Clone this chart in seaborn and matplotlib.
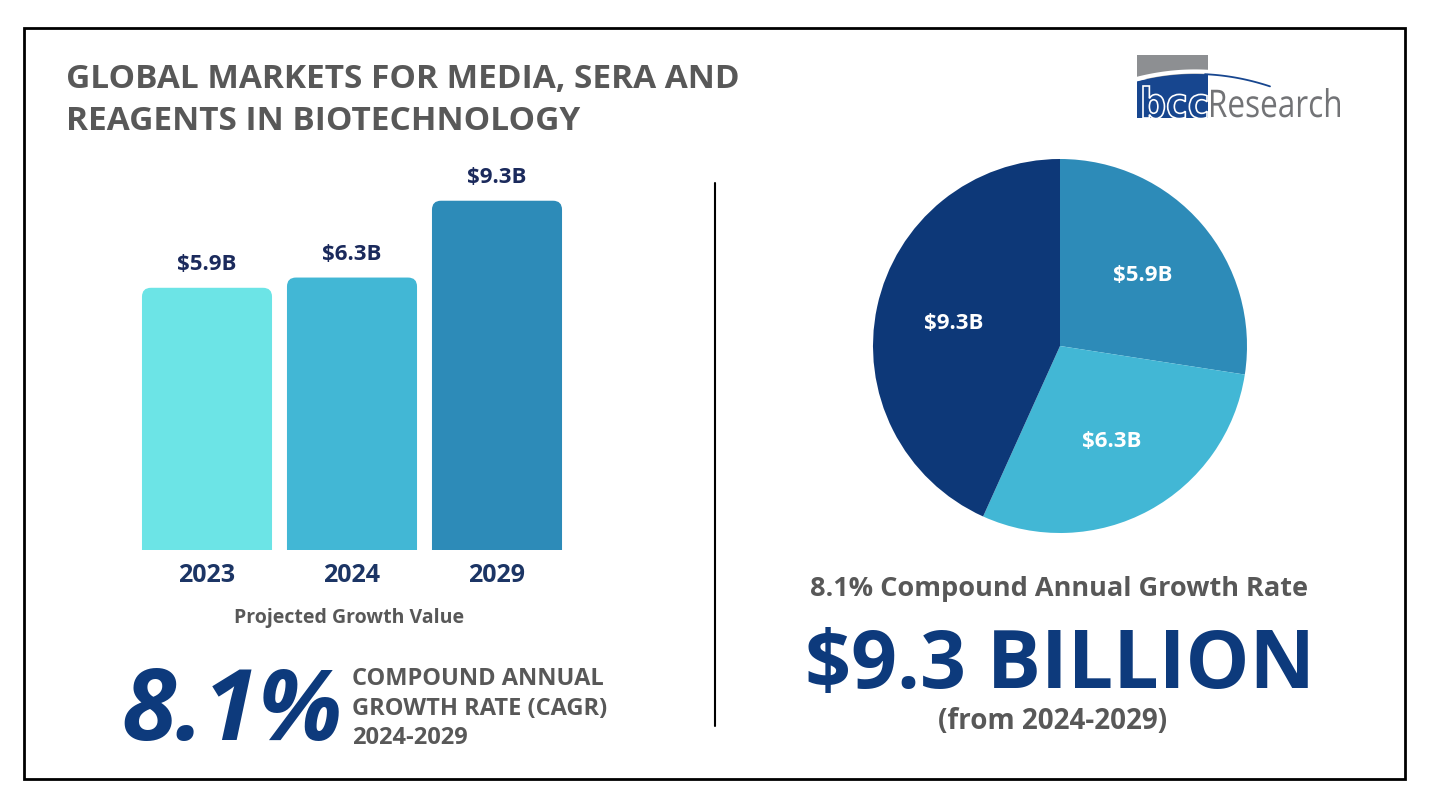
import numpy as np
import pandas as pd
import matplotlib
matplotlib.use("Agg")
import matplotlib.pyplot as plt
import seaborn as sns
from matplotlib.patches import Rectangle, FancyBboxPatch, PathPatch, Polygon
from matplotlib.textpath import TextPath
from matplotlib.font_manager import FontProperties
from matplotlib.transforms import Affine2D

# ---------------- data ----------------
years = ["2023", "2024", "2029"]
values = [5.9, 6.3, 9.3]
bar_labels = ["$5.9B", "$6.3B", "$9.3B"]
bar_colors = ["#6ce4e6", "#42b7d5", "#2d8bb8"]

pie_values = [5.9, 6.3, 9.3]
pie_labels = ["$5.9B", "$6.3B", "$9.3B"]
pie_colors = ["#2d8bb8", "#42b7d5", "#0d3878"]

title_lines = ["GLOBAL MARKETS FOR MEDIA, SERA AND", "REAGENTS IN BIOTECHNOLOGY"]
cagr_big = "8.1%"
cagr_lines = ["COMPOUND ANNUAL", "GROWTH RATE (CAGR)", "2024-2029"]
xlabel_text = "Projected Growth Value"
right_line1 = "8.1% Compound Annual Growth Rate"
right_big = "$9.3 BILLION"
right_line3 = "(from 2024-2029)"

NAVY = "#0d3a7c"
LABEL_NAVY = "#1b2a5c"
GRAY = "#585858"
FONT = "Open Sans"

sns.set_theme(style="white")
plt.rcParams["font.family"] = [FONT, "DejaVu Sans"]

W, H = 1430, 808
fig = plt.figure(figsize=(W / 100, H / 100), dpi=100)
fig.patch.set_facecolor("white")

def fax(left, top, width, height):
    """axes placed in pixel coordinates (top-left origin)"""
    return fig.add_axes([left / W, 1 - (top + height) / H, width / W, height / H])

# background / overlay axes in pixel coordinates
bg = fig.add_axes([0, 0, 1, 1], zorder=0)
bg.set_xlim(0, W)
bg.set_ylim(H, 0)
bg.axis("off")

# ---------------- bar chart ----------------
px_per_x = 145.0
base = -4.34
ytop = 10.5
xl = (-0.53, 2.53)
ax_w = (xl[1] - xl[0]) * px_per_x
ax_left = 207 + xl[0] * px_per_x
ax_h = 380.0
px_per_y = ax_h / (ytop - base)
ax = fax(ax_left, 550 - ax_h, ax_w, ax_h)
ax.patch.set_alpha(0)

df = pd.DataFrame({"year": years, "value": values})
sns.barplot(data=df, x="year", y="value", hue="year", palette=bar_colors,
            saturation=1, width=0.897, legend=False, ax=ax, zorder=2)
ax.set_xlim(*xl)
ax.set_ylim(base, ytop)

r = 9 / px_per_x
for p in list(ax.patches):
    x, w = p.get_x(), p.get_width()
    top = p.get_y() + p.get_height()
    p.set_y(base - 1)
    p.set_height(top - (base - 1))
    p.set_visible(False)
    fb = FancyBboxPatch((x, base - 1), w, top - (base - 1),
                        boxstyle=f"round,pad=0,rounding_size={r}",
                        mutation_aspect=px_per_x / px_per_y,
                        facecolor=p.get_facecolor(), edgecolor="none", zorder=2)
    ax.add_patch(fb)

for cont, lab in zip(ax.containers, bar_labels):
    ax.bar_label(cont, labels=[lab], padding=9, fontsize=16, fontweight="bold",
                 color=LABEL_NAVY)

ax.set_xlabel("")
ax.set_ylabel("")
ax.set_yticks([])
ax.tick_params(axis="x", length=0, pad=9, labelsize=18, labelcolor="#1c3565")
for t in ax.get_xticklabels():
    t.set_fontweight("bold")
sns.despine(ax=ax, left=True, bottom=True)

bg.text(349, 623, xlabel_text, ha="center", va="baseline", fontsize=14,
        fontweight="bold", color=GRAY)

# ---------------- pie chart ----------------
cx, cy, rad = 1060, 346, 187
axp = fax(cx - rad, cy - rad, 2 * rad, 2 * rad)
lab_iter = iter(pie_labels)
axp.pie(pie_values, colors=pie_colors, startangle=90, counterclock=False,
        autopct=lambda p: next(lab_iter), pctdistance=0.58,
        textprops=dict(color="white", fontsize=16, fontweight="bold"),
        wedgeprops=dict(linewidth=0))
axp.set_xlim(-1, 1)
axp.set_ylim(-1, 1)
axp.set_aspect("equal")

# ---------------- texts ----------------
bg.text(66, 88, title_lines[0], ha="left", va="baseline", fontsize=24,
        fontweight="bold", color=GRAY)
bg.text(66, 130, title_lines[1], ha="left", va="baseline", fontsize=24,
        fontweight="bold", color=GRAY)

bg.text(121, 740, cagr_big, ha="left", va="baseline", fontsize=71,
        fontweight="bold", fontstyle="italic", color=NAVY)
for i, s in enumerate(cagr_lines):
    bg.text(352, 685 + i * 29.5, s, ha="left", va="baseline", fontsize=17,
            fontweight="bold", color=GRAY)

bg.text(1059, 596, right_line1, ha="center", va="baseline", fontsize=19.5,
        fontweight="bold", color=GRAY)
bg.text(1060, 688, right_big, ha="center", va="baseline", fontsize=58,
        fontweight="bold", color=NAVY)
bg.text(1053, 729, right_line3, ha="center", va="baseline", fontsize=20,
        fontweight="bold", color=GRAY)

# ---------------- frame & divider ----------------
bg.add_patch(Rectangle((24, 28), 1381, 751, fill=False, edgecolor="black",
                       linewidth=2, zorder=1))
bg.plot([715, 715], [183, 726], color="black", linewidth=1.5)

# ---------------- logo ----------------
def fit_text(s, prop, x0, x1, top, base_y, **kw):
    tp = TextPath((0, 0), s, size=1, prop=prop)
    ext = tp.get_extents()
    sx = (x1 - x0) / ext.width
    sy = (base_y - top) / ext.y1
    tr = Affine2D().translate(-ext.x0, 0).scale(sx, -sy).translate(x0, base_y)
    bg.add_patch(PathPatch(tr.transform_path(tp), **kw))

bg.add_patch(Rectangle((1137, 55), 71, 24, facecolor="#8d8f92", edgecolor="none"))
xs = np.linspace(1137, 1208, 40)
arc = 74 + 0.0022 * (xs - 1195) ** 2
bg.plot(xs, arc - 2.5, color="white", linewidth=3, solid_capstyle="butt")
poly = np.column_stack([np.r_[xs, 1208, 1137], np.r_[arc, 118, 118]])
bg.add_patch(Polygon(poly, closed=True, facecolor="#17468f", edgecolor="none"))
xs2 = np.linspace(1205, 1270, 30)
bg.plot(xs2, 74 + 0.0022 * (xs2 - 1195) ** 2, color="#17468f", linewidth=1.3)
fit_text("bcc", FontProperties(family="DejaVu Sans", weight="bold"),
         1143, 1207, 86, 118, facecolor="#17468f", edgecolor="white", linewidth=1.2)
fit_text("Research", FontProperties(family=FONT), 1211, 1340, 88, 117,
         facecolor="#727376", edgecolor="none")

fig.savefig("out.png", dpi=100, facecolor="white")
